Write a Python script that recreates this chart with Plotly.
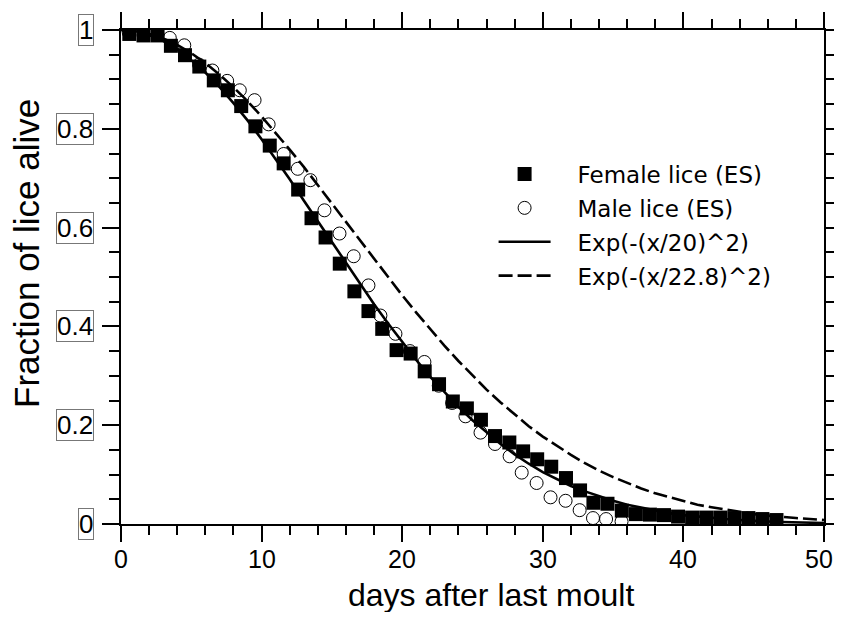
import plotly.graph_objects as go

# ---------------- data ----------------
female_days = [0.59, 1.6, 2.6, 3.55, 4.55, 5.57, 6.6, 7.6, 8.55, 9.56, 10.58, 11.57, 12.6, 13.55,
               14.55, 15.56, 16.6, 17.6, 18.58, 19.6, 20.6, 21.6, 22.62, 23.6, 24.6, 25.6, 26.6,
               27.62, 28.6, 29.6, 30.6, 31.65, 32.65, 33.6, 34.6, 35.62, 36.62, 37.62, 38.62,
               39.62, 40.62, 41.62, 42.62, 43.62, 44.62, 45.62, 46.62]
female_alive = [0.992, 0.989, 0.989, 0.968, 0.949, 0.926, 0.898, 0.878, 0.846, 0.805, 0.766, 0.730,
                0.677, 0.619, 0.580, 0.527, 0.471, 0.431, 0.395, 0.352, 0.345, 0.309, 0.283, 0.248,
                0.234, 0.211, 0.178, 0.165, 0.147, 0.131, 0.116, 0.093, 0.068, 0.043, 0.041, 0.027,
                0.020, 0.019, 0.018, 0.015, 0.013, 0.013, 0.013, 0.012, 0.012, 0.010, 0.008]

male_days = [0.55, 1.6, 2.6, 3.47, 4.5, 5.55, 6.5, 7.55, 8.45, 9.5, 10.5, 11.57, 12.57, 13.47,
             14.47, 15.54, 16.55, 17.6, 18.45, 19.52, 20.55, 21.58, 22.6, 23.55, 24.5, 25.57,
             26.6, 27.64, 28.5, 29.56, 30.55, 31.62, 32.62, 33.57, 34.5, 35.6]
male_alive = [0.995, 0.99, 0.99, 0.984, 0.969, 0.93, 0.918, 0.897, 0.878, 0.858, 0.809, 0.749,
              0.719, 0.696, 0.635, 0.588, 0.542, 0.483, 0.422, 0.385, 0.35, 0.328, 0.28, 0.245,
              0.218, 0.185, 0.162, 0.137, 0.104, 0.083, 0.054, 0.047, 0.028, 0.012, 0.010, 0.005]

curve_days = list(range(0, 51))
fit20 = [1.000, 0.998, 0.990, 0.978, 0.961, 0.939, 0.914, 0.885, 0.852, 0.817, 0.779, 0.739,
         0.698, 0.655, 0.613, 0.570, 0.527, 0.486, 0.445, 0.406, 0.368, 0.332, 0.298, 0.267,
         0.237, 0.210, 0.185, 0.162, 0.141, 0.122, 0.105, 0.091, 0.077, 0.066, 0.056, 0.047,
         0.039, 0.033, 0.027, 0.022, 0.018, 0.015, 0.012, 0.010, 0.008, 0.006, 0.005, 0.004,
         0.003, 0.003, 0.002]
fit228 = [1.000, 0.998, 0.992, 0.983, 0.970, 0.953, 0.933, 0.910, 0.884, 0.856, 0.825, 0.792,
          0.758, 0.723, 0.686, 0.649, 0.611, 0.574, 0.536, 0.499, 0.463, 0.428, 0.394, 0.361,
          0.330, 0.301, 0.272, 0.246, 0.221, 0.198, 0.177, 0.158, 0.140, 0.123, 0.108, 0.095,
          0.083, 0.072, 0.062, 0.054, 0.046, 0.039, 0.034, 0.029, 0.024, 0.020, 0.017, 0.014,
          0.012, 0.010, 0.008]

y_tick_vals = [0, 0.2, 0.4, 0.6, 0.8, 1]
y_tick_text = ["0", "0.2", "0.4", "0.6", "0.8", "1"]
x_tick_vals = [0, 10, 20, 30, 40, 50]
x_tick_text = ["0", "10", "20", "30", "40", "50"]

# ---------------- figure ----------------
fig = go.Figure()

pad = "\u00a0\u00a0\u00a0"
fig.add_trace(go.Scatter(
    x=male_days, y=male_alive, mode="markers", name=pad + "Male lice (ES)",
    marker=dict(symbol="circle-open", size=13, color="black", line=dict(width=1, color="black")),
    legendrank=2, legendgroup="b"))
fig.add_trace(go.Scatter(
    x=female_days, y=female_alive, mode="markers", name=pad + "Female lice (ES)",
    marker=dict(symbol="square", size=14, color="black"),
    legendrank=1, legendgroup="a"))
fig.add_trace(go.Scatter(
    x=curve_days, y=fit20, mode="lines", name=pad + "Exp(-(x/20)^2)",
    line=dict(color="black", width=2.6), legendrank=3, legendgroup="c"))
fig.add_trace(go.Scatter(
    x=curve_days, y=fit228, mode="lines", name=pad + "Exp(-(x/22.8)^2)",
    line=dict(color="black", width=2.6, dash="14px,5px"), legendrank=4, legendgroup="d"))

x_tick_font = dict(family="Liberation Sans, Arial, sans-serif", size=25, color="black")
y_tick_font = dict(family="Liberation Sans, Arial, sans-serif", size=26, color="black")

# The page body adds an 8px margin; the figure is sized so the page does not scroll.
fig.update_layout(
    width=834, height=604,
    margin=dict(l=113, r=18, t=22, b=88),
    paper_bgcolor="white", plot_bgcolor="white",
    showlegend=True,
    legend=dict(
        x=0.53, y=0.752, xanchor="left", yanchor="top",
        font=dict(family="DejaVu Sans", size=23, color="black"),
        bgcolor="rgba(0,0,0,0)", borderwidth=0,
        traceorder="grouped", tracegroupgap=1, itemwidth=52,
    ),
    xaxis=dict(
        range=[0, 50], showgrid=False, zeroline=False, automargin=False,
        showline=True, linecolor="black", linewidth=2, mirror="allticks",
        ticks="outside", ticklen=16, tickwidth=2, tickcolor="black",
        tickvals=x_tick_vals, showticklabels=False,
        minor=dict(dtick=2, ticks="outside", ticklen=9, tickwidth=1.5, tickcolor="black", showgrid=False),
    ),
    yaxis=dict(
        range=[0, 1], showgrid=False, zeroline=False, automargin=False,
        showline=True, linecolor="black", linewidth=2, mirror="allticks",
        ticks="outside", ticklen=17, tickwidth=2, tickcolor="black",
        tickvals=y_tick_vals, showticklabels=False,
        minor=dict(dtick=0.05, ticks="outside", ticklen=10, tickwidth=1.5, tickcolor="black", showgrid=False),
    ),
)

annotations = []
for v, t in zip(y_tick_vals, y_tick_text):
    annotations.append(dict(
        x=0, xref="paper", y=v, yref="y", text=t, showarrow=False,
        xanchor="right", yanchor="middle", xshift=-27,
        font=y_tick_font, bordercolor="#777", borderwidth=1, borderpad=0))

for v, t in zip(x_tick_vals, x_tick_text):
    annotations.append(dict(
        x=v, xref="x", y=0, yref="paper", text=t, showarrow=False,
        xanchor="center", yanchor="top", yshift=-19,
        xshift=(-5 if v == x_tick_vals[-1] else 0),
        font=x_tick_font))

annotations.append(dict(
    x=0.5, xref="paper", y=0, yref="paper", text="days after last moult", showarrow=False,
    xanchor="center", yanchor="middle", xshift=18, yshift=-71,
    font=dict(family="Liberation Sans, Arial, sans-serif", size=32, color="black")))
annotations.append(dict(
    x=0, xref="paper", y=0.5, yref="paper", text="Fraction of lice alive", showarrow=False,
    xanchor="center", yanchor="middle", xshift=-95, yshift=23, textangle=-90,
    font=dict(family="Liberation Sans, Arial, sans-serif", size=35, color="black")))

fig.update_layout(annotations=annotations)

fig.write_html("out.html")
